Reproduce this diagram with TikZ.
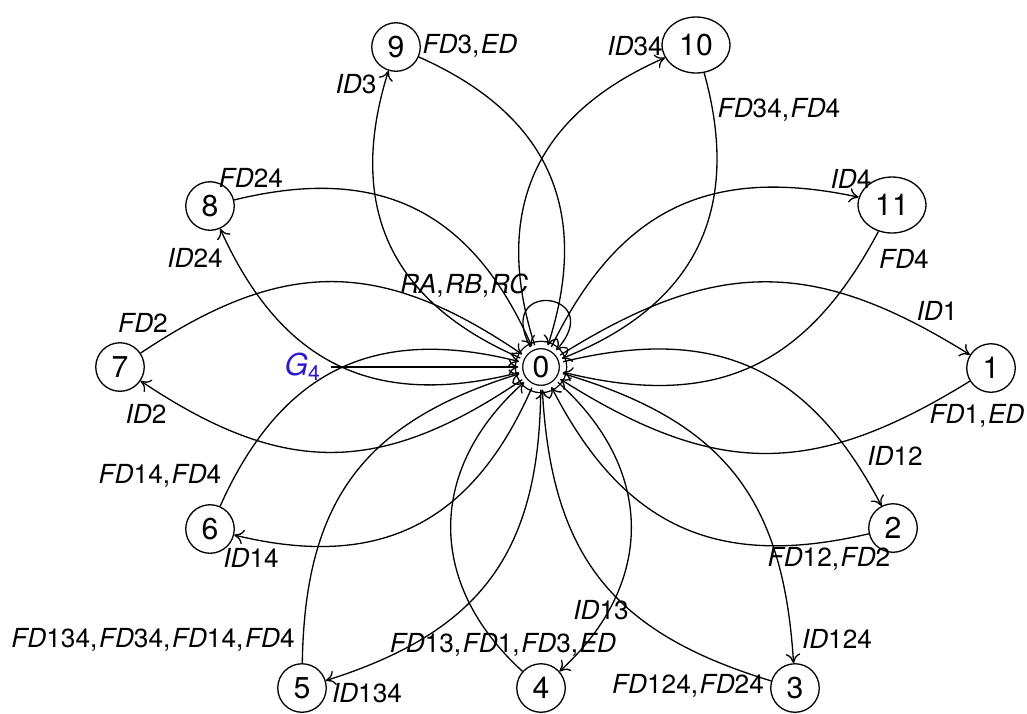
\documentclass[tikz,border=0pt]{standalone}
\usepackage{fontspec}
\setmainfont{TeX Gyre Heros}
\usepackage{xcolor}
\usetikzlibrary{arrows.meta}
\usetikzlibrary{shapes.geometric}
\definecolor{myblue}{RGB}{45,25,205}
\newcommand{\idt}[1]{\textit{ID}#1}
\newcommand{\fdt}[1]{\textit{FD}#1}
\newcommand{\edt}{\textit{ED}}
\newcommand{\nx}{,\kern0.6pt}

\begin{document}
\begin{tikzpicture}[x=0.0134cm, y=0.0134cm, line width=0.5pt, >={To[length=3.6pt,width=5.6pt]},
  state/.style={circle, draw, minimum size=0.65cm, inner sep=0pt, font=\fontsize{11.5}{13}\selectfont},
  wide/.style={ellipse, draw, minimum width=0.91cm, minimum height=0.75cm, inner sep=0pt, font=\fontsize{11.5}{13}\selectfont},
  final/.style={state, double, double distance=0.08cm, minimum size=0.59cm},
  lbl/.style={inner sep=0pt, anchor=base, font=\fontsize{10}{12}\selectfont},
  lens/.style={->, bend left=#1, looseness=1.15}]

\useasboundingbox (0,0) rectangle (1027,-713);

% states
\node[final] (q0) at (541,-367) {0};
\node[state] (q1) at (991,-368) {1};
\node[state] (q2) at (893,-528) {2};
\node[state] (q3) at (795,-688) {3};
\node[state] (q4) at (541,-688) {4};
\node[state] (q5) at (302,-688) {5};
\node[state] (q6) at (210,-529) {6};
\node[state] (q7) at (120,-367) {7};
\node[state] (q8) at (210,-206) {8};
\node[state] (q9) at (396,-47) {9};
\node[wide] (q10) at (696,-45) {10};
\node[wide] (q11) at (892,-205) {11};

% initial arrow and loop
\node[font=\fontsize{11.5}{13}\selectfont, text=myblue] (g4) at (303,-367) {\textit{G}\textsubscript{4}};
\draw[->] (g4) -- (q0);
\path[->] (q0) edge[out=118, in=48, distance=1.05cm] (q0);

% each state is reached by ID and left by FD
\path (q0) edge[lens=32] (q1)  (q1) edge[lens=32] (q0);
\path (q0) edge[lens=38] (q2)  (q2) edge[lens=38] (q0);
\path (q0) edge[lens=35] (q3)  (q3) edge[lens=35] (q0);
\path (q0) edge[lens=48] (q4)  (q4) edge[lens=48] (q0);
\path (q0) edge[lens=36] (q5)  (q5) edge[lens=36] (q0);
\path (q0) edge[lens=40] (q6)  (q6) edge[lens=40] (q0);
\path (q0) edge[lens=34] (q7)  (q7) edge[lens=34] (q0);
\path (q0) edge[lens=40] (q8)  (q8) edge[lens=40] (q0);
\path (q0) edge[lens=42] (q9)  (q9) edge[lens=42] (q0);
\path (q0) edge[lens=42] (q10) (q10) edge[lens=42] (q0);
\path (q0) edge[lens=38] (q11) (q11) edge[lens=38] (q0);

% labels
\node[lbl] (rr) at (464,-293) {\textit{RA}\nx\textit{RB}\nx\textit{RC}};
\node[lbl] (i1) at (937,-320) {\idt{1}};
\node[lbl] (f1) at (977,-423) {\fdt{1}\nx\edt};
\node[lbl] (i2) at (895,-465) {\idt{12}};
\node[lbl] (f2) at (829,-566) {\fdt{12}\nx\fdt{2}};
\node[lbl] (i3) at (837,-648) {\idt{124}};
\node[lbl] (f3) at (688,-693) {\fdt{124}\nx\fdt{24}};
\node[lbl] (i4) at (601,-619) {\idt{13}};
\node[lbl] (f4) at (503,-652) {\fdt{13}\nx\fdt{1}\nx\fdt{3}\nx\edt};
\node[lbl] (i5) at (367,-702) {\idt{134}};
\node[lbl] (f5) at (153,-647) {\fdt{134}\nx\fdt{34}\nx\fdt{14}\nx\fdt{4}};
\node[lbl] (i6) at (251,-567) {\idt{14}};
\node[lbl] (f6) at (160,-483) {\fdt{14}\nx\fdt{4}};
\node[lbl] (i7) at (146,-423) {\idt{2}};
\node[lbl] (f7) at (143,-332) {\fdt{2}};
\node[lbl] (i8) at (195,-267) {\idt{24}};
\node[lbl] (f8) at (251,-187) {\fdt{24}};
\node[lbl] (i9) at (356,-93) {\idt{3}};
\node[lbl] (f9) at (470,-53) {\fdt{3}\nx\edt};
\node[lbl] (i10) at (635,-55) {\idt{34}};
\node[lbl] (f10) at (779,-117) {\fdt{34}\nx\fdt{4}};
\node[lbl] (i11) at (851,-188) {\idt{4}};
\node[lbl] (f11) at (904,-268) {\fdt{4}};
\end{tikzpicture}
\end{document}
